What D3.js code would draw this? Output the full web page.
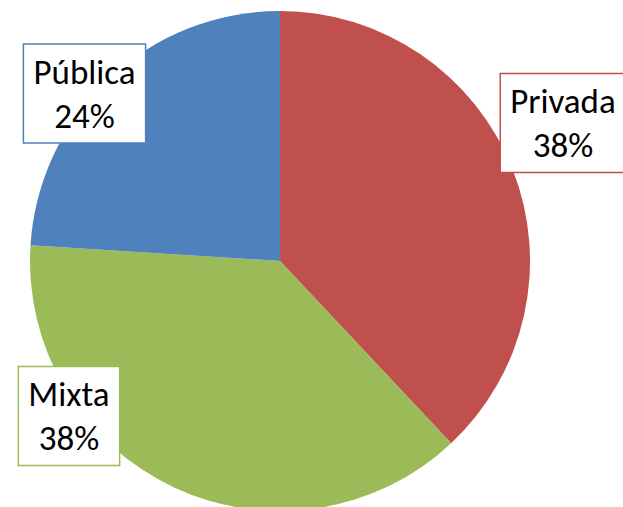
<!DOCTYPE html>
<html>
<head>
<meta charset="utf-8">
<script src="https://cdn.jsdelivr.net/npm/d3@7"></script>
<style>
  body { margin: 0; background: #fff; }
  svg { display: block; }
</style>
</head>
<body>
<svg id="chart" width="623" height="507"></svg>
<script>
var categories = ["Privada", "Mixta", "Pública"];
var values = [38, 38, 24];
var colors = ["#C0504D", "#9BBB59", "#4F81BD"];

// where each label box sits (centre), set by hand like in the original
var labelPos = {
  "Privada": [563, 123],
  "Mixta": [69, 416],
  "Pública": [84.5, 93.5],
};

var width = 623,
  height = 507;
var cx = 280,
  cy = 261,
  radius = 250;

var svg = d3.select("#chart");

var data = categories.map(function (c, i) {
  return { name: c, value: values[i], color: colors[i] };
});

var pie = d3
  .pie()
  .sort(null)
  .value(function (d) {
    return d.value;
  });

var arc = d3.arc().innerRadius(0).outerRadius(radius);

var g = svg.append("g").attr("transform", "translate(" + cx + "," + cy + ")");

g.selectAll("path")
  .data(pie(data))
  .enter()
  .append("path")
  .attr("d", arc)
  .attr("fill", function (d) {
    return d.data.color;
  });

var labels = svg
  .selectAll("g.lbl")
  .data(data)
  .enter()
  .append("g")
  .attr("class", "lbl")
  .attr("transform", function (d) {
    var p = labelPos[d.name];
    return "translate(" + p[0] + "," + p[1] + ")";
  });

var boxRect = labels
  .append("rect")
  .attr("fill", "#fff")
  .attr("stroke", function (d) {
    return d.color;
  })
  .attr("stroke-width", 1.5);

var txt = labels
  .append("text")
  .attr("text-anchor", "middle")
  .attr("font-family", "Carlito, Calibri, Lato, sans-serif")
  .attr("font-size", "35px")
  .attr("fill", "#000");

txt
  .append("tspan")
  .attr("x", 0)
  .attr("y", -10)
  .text(function (d) {
    return d.name;
  });
txt
  .append("tspan")
  .attr("x", 0)
  .attr("y", 34)
  .text(function (d) {
    return d.value + "%";
  });

boxRect.each(function (d, i) {
  var w = txt.nodes()[i].getBBox().width + 20;
  d3.select(this)
    .attr("x", -w / 2)
    .attr("y", -49.5)
    .attr("width", w)
    .attr("height", 99);
});
</script>
</body>
</html>
